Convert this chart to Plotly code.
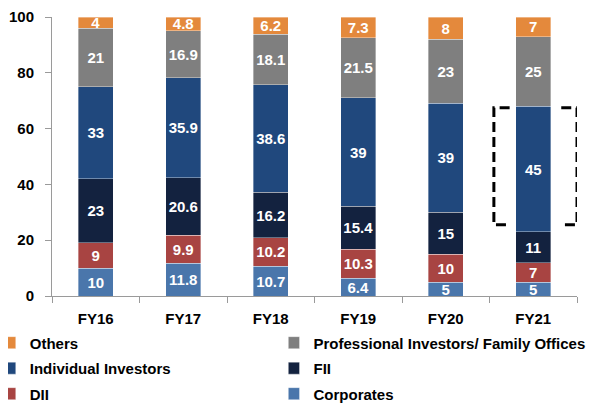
import plotly.graph_objects as go

years = ["FY16", "FY17", "FY18", "FY19", "FY20", "FY21"]
corporates = [10, 11.8, 10.7, 6.4, 5, 5]
dii = [9, 9.9, 10.2, 10.3, 10, 7]
fii = [23, 20.6, 16.2, 15.4, 15, 11]
individual = [33, 35.9, 38.6, 39, 39, 45]
professional = [21, 16.9, 18.1, 21.5, 23, 25]
others = [4, 4.8, 6.2, 7.3, 8, 7]

FONT = "Liberation Sans, Arial, sans-serif"

# (name, values, colour, legend, rank)
series = [
    ("Corporates", corporates, "#4A76AB", "legend2", 3),
    ("DII", dii, "#A84442", "legend", 3),
    ("FII", fii, "#13223F", "legend2", 2),
    ("Individual Investors", individual, "#20487D", "legend", 2),
    ("Professional Investors/ Family Offices", professional, "#7F7F7F", "legend2", 1),
    ("Others", others, "#E4893C", "legend", 1),
]

fig = go.Figure()
for name, vals, color, leg, rank in series:
    fig.add_trace(go.Bar(
        x=years, y=vals, name=name, legend=leg, legendrank=rank, legendgroup=name,
        marker=dict(color=color, line=dict(color="rgba(255,255,255,0.6)", width=0.6)),
        width=0.4,
        text=[f"{v:g}" for v in vals],
        textposition="inside", insidetextanchor="middle", textangle=0,
        textfont=dict(family=FONT, size=15, color="white", weight="bold"),
    ))

# dashed bracket highlighting FY21 individual investors
lo, hi = 25.5, 67.5
xl, xr = 5 - 0.45, 5 + 0.5
arm = 0.18
dash = dict(color="black", width=3, dash="10px,5px")
fig.add_shape(type="path", xref="x", yref="y",
              path=f"M {xl+arm},{hi} L {xl},{hi} L {xl},{lo} L {xl+arm},{lo}", line=dash)
fig.add_shape(type="path", xref="x", yref="y",
              path=f"M {xr-arm},{hi} L {xr},{hi} L {xr},{lo} L {xr-arm},{lo}", line=dash)

legfont = dict(family=FONT, size=15, color="black", weight="bold")
fig.update_layout(
    barmode="stack",
    width=588, height=396,
    margin=dict(l=44, r=19, t=9, b=108, autoexpand=False),
    plot_bgcolor="white", paper_bgcolor="white",
    font=dict(family=FONT, size=15, color="black", weight="bold"),
    uniformtext=dict(mode="show", minsize=15),
    showlegend=True,
    legend=dict(orientation="v", x=-0.09, xanchor="left", y=-0.109, yanchor="top",
                traceorder="grouped", tracegroupgap=3, indentation=-15,
                font=legfont, bgcolor="rgba(0,0,0,0)",
                itemclick=False, itemdoubleclick=False),
    legend2=dict(orientation="v", x=0.4505, xanchor="left", y=-0.109, yanchor="top",
                 traceorder="grouped", tracegroupgap=3, indentation=-15,
                 font=legfont, bgcolor="rgba(0,0,0,0)",
                 itemclick=False, itemdoubleclick=False),
)
fig.update_xaxes(showline=True, linecolor="#9a9a9a", linewidth=1,
                 ticks="outside", tickson="boundaries", ticklen=6, tickcolor="#9a9a9a",
                 ticklabelstandoff=9,
                 tickfont=dict(family=FONT, size=15, weight="bold"),
                 range=[-0.5, 5.5])
fig.update_yaxes(range=[0, 100], dtick=20, showgrid=False, zeroline=False,
                 showline=True, linecolor="#9a9a9a", linewidth=1,
                 ticks="outside", ticklen=6, tickcolor="#9a9a9a",
                 ticklabelstandoff=8,
                 tickfont=dict(family=FONT, size=15, weight="bold"))

fig.write_html("out.html")
